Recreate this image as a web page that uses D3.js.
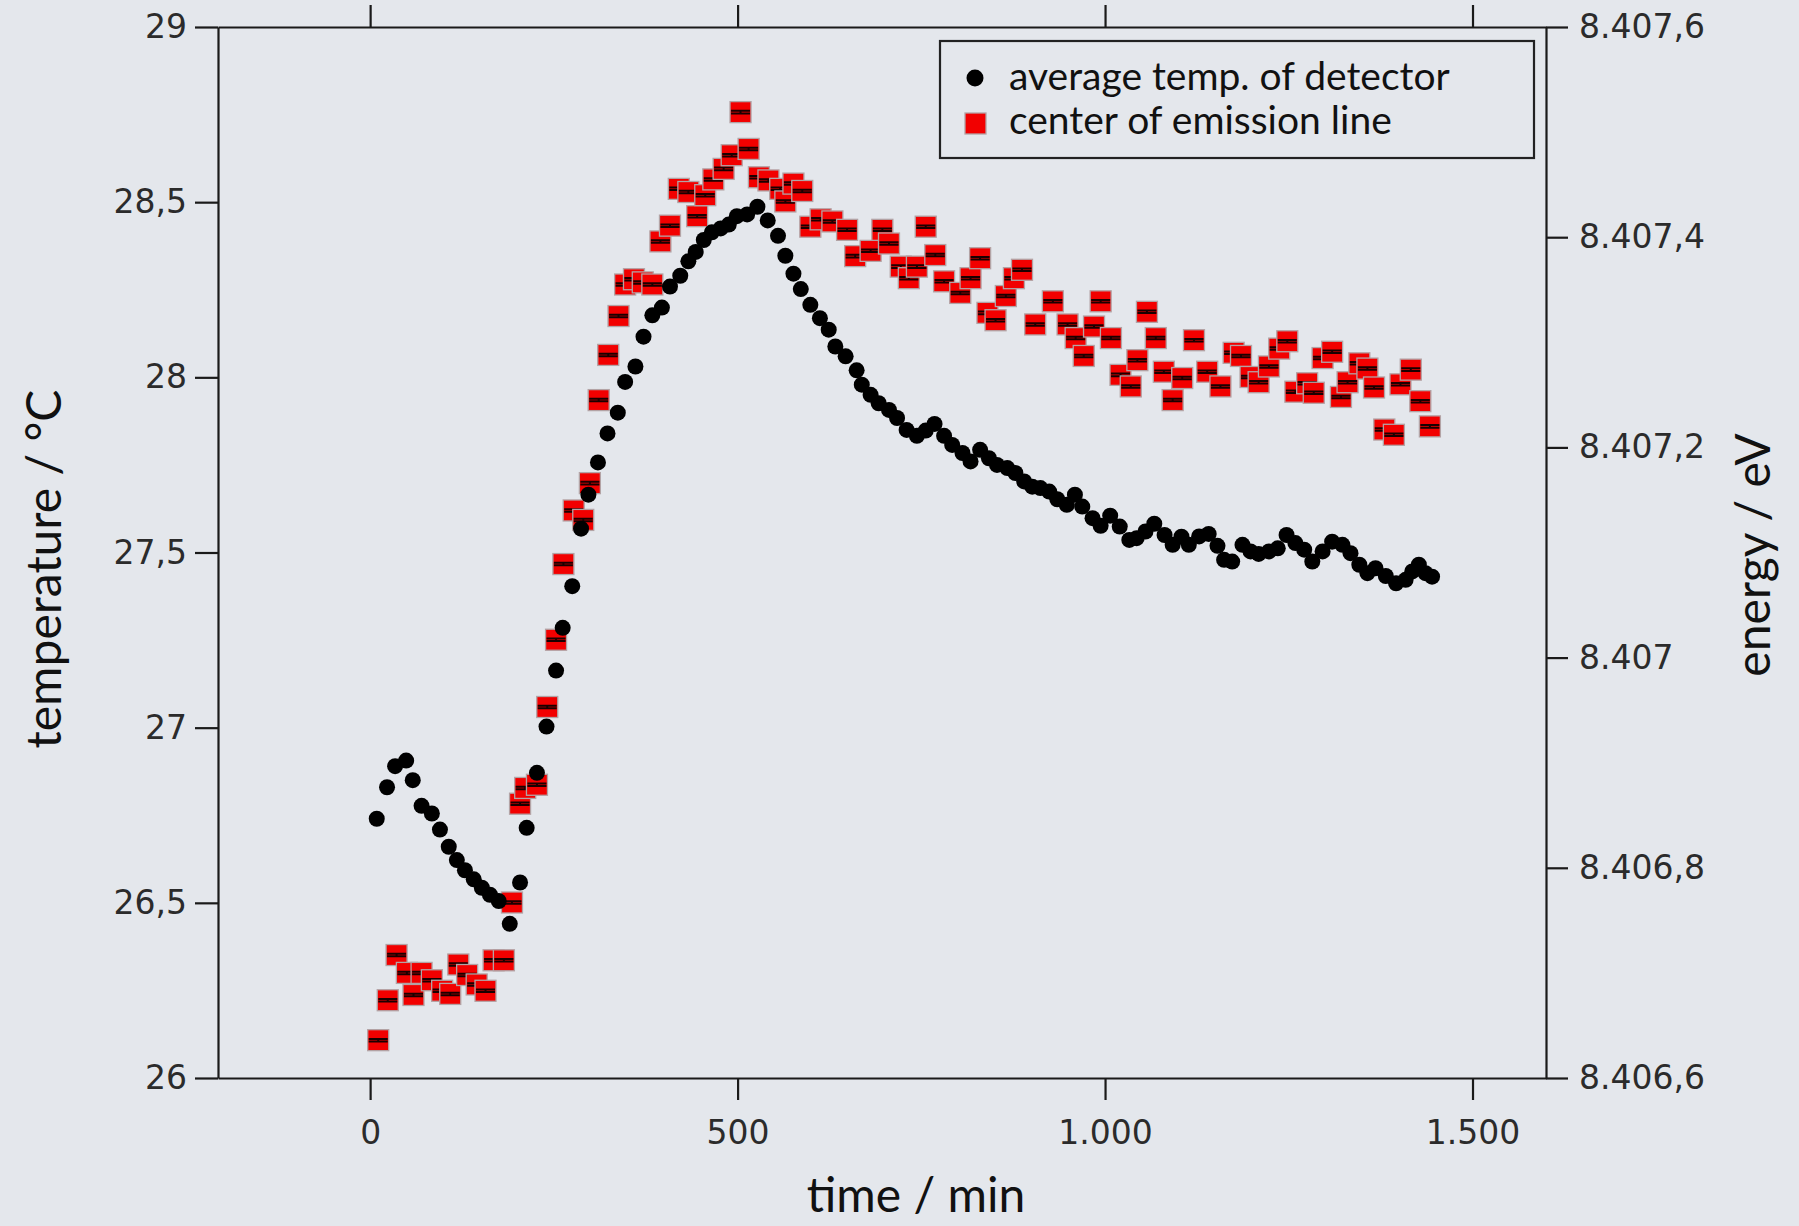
<!DOCTYPE html>
<html>
<head>
<meta charset="utf-8">
<script src="https://cdn.jsdelivr.net/npm/d3@7"></script>
<style>
  html, body { margin: 0; padding: 0; background: #e4e7ec; }
  svg { display: block; }
</style>
</head>
<body>
<div id="my_dataviz"></div>
<script>
// Data: time in min, temperature in °C, energy in eV
const tempTime = [9, 23, 34, 49, 58, 70, 84, 95, 107, 118, 129, 141, 152, 163, 175, 190, 204, 213, 227, 240,
  253, 262, 275, 287, 297, 310, 323, 337, 347, 361, 372, 384, 397, 408, 422, 433, 443, 454, 465, 477,
  488, 499, 513, 527, 541, 555, 565, 576, 586, 599, 612, 624, 633, 647, 662, 669, 681, 692, 706, 717,
  730, 744, 756, 768, 781, 792, 806, 817, 830, 842, 853, 867, 878, 890, 901, 912, 924, 935, 948, 959,
  969, 983, 994, 1007, 1020, 1033, 1043, 1055, 1067, 1081, 1092, 1104, 1114, 1128, 1141, 1153, 1162, 1173, 1187, 1198,
  1209, 1223, 1235, 1247, 1259, 1271, 1282, 1296, 1309, 1323, 1334, 1346, 1357, 1368, 1382, 1396, 1409, 1418, 1427, 1436, 1445];
const tempValue = [26.74, 26.83, 26.89, 26.906, 26.85, 26.777, 26.755, 26.709, 26.66, 26.622, 26.593, 26.567, 26.543, 26.523, 26.505, 26.44, 26.558, 26.714, 26.871, 27.003,
  27.163, 27.285, 27.404, 27.568, 27.665, 27.757, 27.84, 27.899, 27.987, 28.031, 28.116, 28.177, 28.199, 28.259, 28.29, 28.331, 28.358, 28.392, 28.414, 28.425,
  28.436, 28.46, 28.465, 28.487, 28.448, 28.404, 28.347, 28.296, 28.252, 28.207, 28.169, 28.136, 28.088, 28.06, 28.02, 27.979, 27.95, 27.926, 27.907, 27.884,
  27.85, 27.833, 27.848, 27.867, 27.833, 27.807, 27.784, 27.76, 27.793, 27.769, 27.75, 27.741, 27.727, 27.703, 27.688, 27.684, 27.674, 27.652, 27.636, 27.665,
  27.631, 27.598, 27.576, 27.605, 27.574, 27.536, 27.541, 27.56, 27.582, 27.55, 27.522, 27.545, 27.522, 27.546, 27.553, 27.519, 27.479, 27.474, 27.522, 27.503,
  27.496, 27.503, 27.512, 27.55, 27.527, 27.508, 27.474, 27.503, 27.531, 27.522, 27.498, 27.465, 27.441, 27.455, 27.433, 27.412, 27.422, 27.446, 27.465, 27.441, 27.431];

const energyTime = [11, 24, 36, 50, 59, 70, 84, 98, 109, 120, 132, 145, 157, 168, 182, 193, 204, 211, 227, 241,
  253, 263, 277, 290, 299, 311, 324, 338, 347, 359, 371, 384, 395, 408, 420, 433, 445, 456, 467, 481,
  492, 504, 515, 529, 542, 558, 565, 576, 588, 599, 613, 629, 649, 660, 681, 697, 706, 722, 733, 744,
  756, 769, 781, 803, 817, 830, 840, 851, 865, 876, 887, 905, 929, 949, 960, 971, 985, 994, 1008, 1021,
  1035, 1044, 1057, 1069, 1080, 1092, 1105, 1121, 1139, 1157, 1175, 1185, 1198, 1209, 1223, 1237, 1248, 1259, 1275, 1284,
  1296, 1309, 1321, 1330, 1346, 1357, 1366, 1380, 1393, 1402, 1416, 1429, 1442];
const energyValue = [8406.636, 8406.674, 8406.717, 8406.700, 8406.679, 8406.700, 8406.693, 8406.683, 8406.680, 8406.708, 8406.698, 8406.689, 8406.683, 8406.712, 8406.712, 8406.767, 8406.861, 8406.876, 8406.879, 8406.953,
  8407.017, 8407.089, 8407.140, 8407.131, 8407.166, 8407.245, 8407.288, 8407.325, 8407.355, 8407.360, 8407.357, 8407.355, 8407.396, 8407.411, 8407.446, 8407.443, 8407.420, 8407.440, 8407.455, 8407.465,
  8407.478, 8407.519, 8407.484, 8407.457, 8407.454, 8407.446, 8407.434, 8407.451, 8407.444, 8407.410, 8407.417, 8407.415, 8407.407, 8407.382, 8407.387, 8407.407, 8407.394, 8407.372, 8407.361, 8407.372,
  8407.410, 8407.383, 8407.358, 8407.347, 8407.361, 8407.380, 8407.328, 8407.321, 8407.344, 8407.361, 8407.369, 8407.317, 8407.339, 8407.317, 8407.304, 8407.287, 8407.315, 8407.339, 8407.304, 8407.269,
  8407.258, 8407.283, 8407.329, 8407.304, 8407.272, 8407.245, 8407.266, 8407.302, 8407.272, 8407.258, 8407.290, 8407.287, 8407.267, 8407.262, 8407.277, 8407.294, 8407.301, 8407.253, 8407.261, 8407.252,
  8407.285, 8407.291, 8407.248, 8407.262, 8407.280, 8407.275, 8407.257, 8407.217, 8407.212, 8407.260, 8407.274, 8407.244, 8407.220];
const energyError = 0.0012;

const timeTicks = [0, 500, 1000, 1500];
const tempTicks = [26, 26.5, 27, 27.5, 28, 28.5, 29];
const energyTicks = [8406.6, 8406.8, 8407, 8407.2, 8407.4, 8407.6];
const legendLabels = ["average temp. of detector", "center of emission line"];

// Set the dimensions and margins of the graph
const margin = {top: 27, right: 253, bottom: 148, left: 218},
    fullWidth = 1799,
    fullHeight = 1226,
    width = fullWidth - margin.left - margin.right,
    height = fullHeight - margin.top - margin.bottom;

// German number format: 1.000 and 28,5
const de = d3.formatLocale({decimal: ",", thousands: ".", grouping: [3], currency: ["", " €"]});
const fmt = de.format(",");

// Append the svg object to the body of the page
const svg = d3.select("#my_dataviz")
    .append("svg")
    .attr("width", fullWidth)
    .attr("height", fullHeight)
    .append("g")
    .attr("transform", `translate(${margin.left}, ${margin.top})`);

// Scales
const x = d3.scaleLinear().domain([-207, 1600]).range([0, width]);
const yT = d3.scaleLinear().domain([26, 29]).range([height, 0]);
const yE = d3.scaleLinear().domain([8406.6, 8407.6]).range([height, 0]);

function styleAxis(g) {
    g.select(".domain").attr("stroke", "#1a1a1a").attr("stroke-width", 2.2);
    g.selectAll(".tick line").attr("stroke", "#1a1a1a").attr("stroke-width", 2.2);
    g.selectAll(".tick text")
        .attr("fill", "#2b2b2b")
        .style("font-family", "'DejaVu Sans', sans-serif")
        .style("font-size", "33px");
}

// Add X axis (bottom and top)
svg.append("g")
    .attr("transform", `translate(0, ${height})`)
    .call(d3.axisBottom(x).tickValues(timeTicks).tickFormat(fmt).tickSize(22).tickSizeOuter(0).tickPadding(21))
    .call(styleAxis);
svg.append("g")
    .call(d3.axisTop(x).tickValues(timeTicks).tickFormat("").tickSize(22).tickSizeOuter(0))
    .call(styleAxis);

// Add Y axes
svg.append("g")
    .call(d3.axisLeft(yT).tickValues(tempTicks).tickFormat(fmt).tickSize(23).tickSizeOuter(0).tickPadding(8))
    .call(styleAxis);
svg.append("g")
    .attr("transform", `translate(${width}, 0)`)
    .call(d3.axisRight(yE).tickValues(energyTicks).tickFormat(fmt).tickSize(22).tickSizeOuter(0).tickPadding(11))
    .call(styleAxis);

// Axis titles
const titleFont = "Lato, 'Noto Sans', sans-serif";
svg.append("text")
    .attr("x", 916 - margin.left)
    .attr("y", 1212 - margin.top)
    .attr("text-anchor", "middle")
    .style("font-family", titleFont)
    .style("font-size", "48px")
    .attr("fill", "#111")
    .text("time / min");
svg.append("text")
    .attr("transform", `translate(${61 - margin.left}, ${569 - margin.top}) rotate(-90)`)
    .attr("text-anchor", "middle")
    .style("font-family", titleFont)
    .style("font-size", "48px")
    .attr("fill", "#111")
    .text("temperature / °C");
svg.append("text")
    .attr("transform", `translate(${1770 - margin.left}, ${555 - margin.top}) rotate(-90)`)
    .attr("text-anchor", "middle")
    .style("font-family", titleFont)
    .style("font-size", "48px")
    .attr("fill", "#111")
    .text("energy / eV");

// Energy series: red squares with small error bars
const energy = energyTime.map((t, i) => ({t: t, v: energyValue[i]}));
const sq = svg.selectAll("mysquare")
    .data(energy)
    .join("g")
    .attr("transform", d => `translate(${x(d.t)}, ${yE(d.v)})`);
sq.append("rect")
    .attr("x", -10.5).attr("y", -10.5)
    .attr("width", 21).attr("height", 21)
    .attr("fill", "#f20000")
    .attr("stroke", "#b3a3a5")
    .attr("stroke-width", 1.3);
sq.append("path")
    .attr("d", d => {
        const y1 = yE(d.v + energyError) - yE(d.v), y2 = yE(d.v - energyError) - yE(d.v);
        return `M-9.5,${y1}H9.5M-9.5,${y2}H9.5M0,${y1}V${y2}`;
    })
    .attr("stroke", "#1a0000")
    .attr("stroke-width", 2)
    .attr("fill", "none");

// Temperature series: black dots
const temp = tempTime.map((t, i) => ({t: t, v: tempValue[i]}));
svg.selectAll("mycircle")
    .data(temp)
    .join("circle")
    .attr("cx", d => x(d.t))
    .attr("cy", d => yT(d.v))
    .attr("r", 8)
    .style("fill", "#000");

// Legend
const legend = svg.append("g").attr("transform", `translate(${940 - margin.left}, ${41 - margin.top})`);
legend.append("rect")
    .attr("width", 594).attr("height", 117)
    .attr("fill", "none")
    .attr("stroke", "#222")
    .attr("stroke-width", 2.2);
legend.append("circle")
    .attr("cx", 35).attr("cy", 37).attr("r", 8.5)
    .style("fill", "#000");
legend.append("rect")
    .attr("x", 25).attr("y", 72).attr("width", 21).attr("height", 21)
    .attr("fill", "#f20000")
    .attr("stroke", "#b3a3a5")
    .attr("stroke-width", 1.3);
legend.selectAll("mylabel")
    .data(legendLabels)
    .join("text")
    .attr("x", 69)
    .attr("y", (d, i) => 48.5 + i * 44)
    .style("font-family", titleFont)
    .style("font-size", "39px")
    .attr("fill", "#111")
    .text(d => d);
</script>
</body>
</html>
